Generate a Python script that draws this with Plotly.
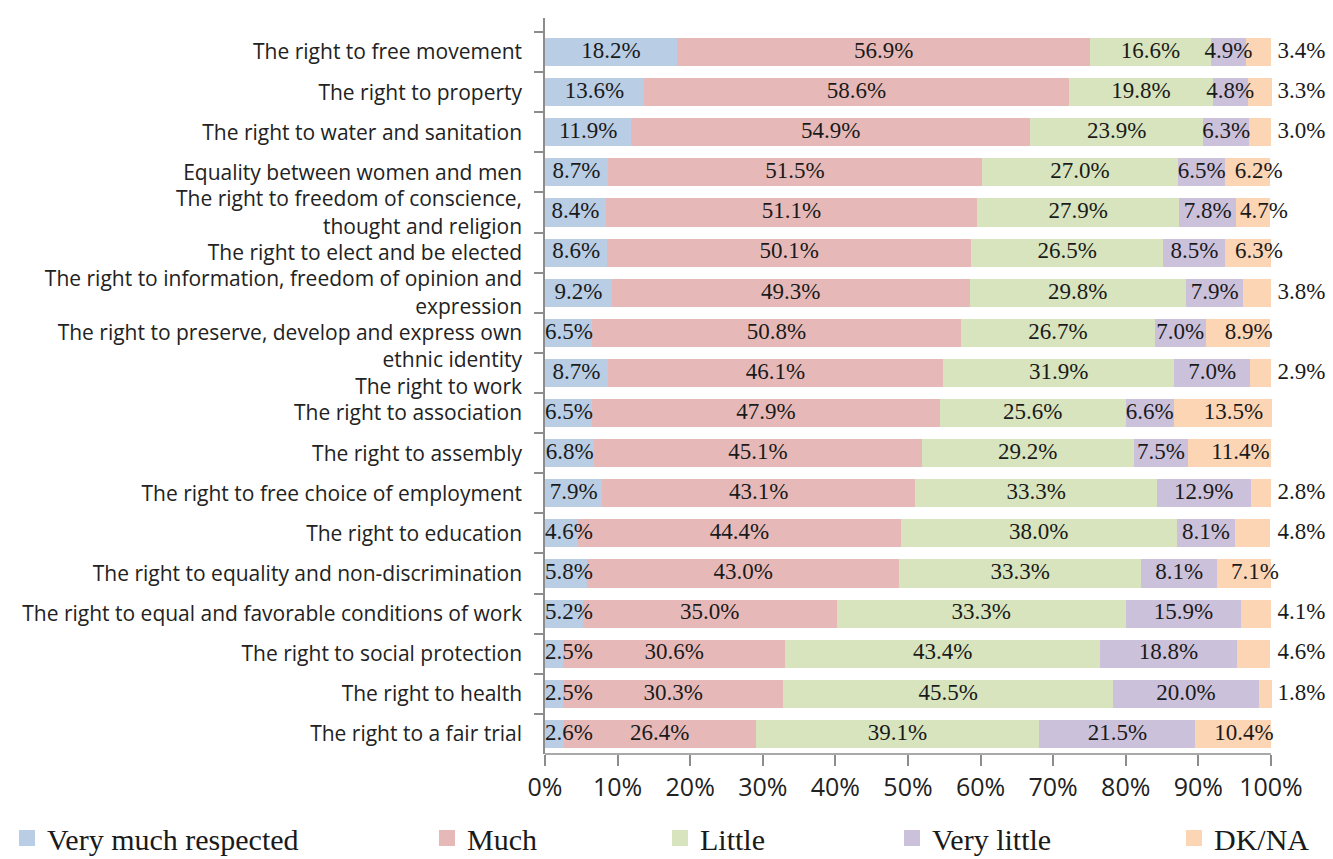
import plotly.graph_objects as go

categories = [
    "The right to free movement",
    "The right to property",
    "The right to water and sanitation",
    "Equality between women and men",
    "The right to freedom of conscience,<br>thought and religion",
    "The right to elect and be elected",
    "The right to information, freedom of opinion and<br>expression",
    "<br>The right to preserve, develop and express own<br>ethnic identity",
    "<br>The right to work",
    "The right to association",
    "The right to assembly",
    "The right to free choice of employment",
    "The right to education",
    "The right to equality and non-discrimination",
    "The right to equal and favorable conditions of work",
    "The right to social protection",
    "The right to health",
    "The right to a fair trial",
]

series_names = ["Very much respected", "Much", "Little", "Very little", "DK/NA"]
series_colors = ["#B9CDE5", "#E6B9B8", "#D7E4BD", "#CCC1DA", "#FCD5B5"]

# bar lengths as drawn (percent)
very_much = [18.2, 13.6, 11.9, 8.7, 8.4, 8.6, 9.2, 6.5, 8.7, 6.5, 6.8, 7.9, 4.6, 5.8, 5.2, 2.5, 2.5, 2.6]
much = [56.9, 58.6, 54.9, 51.5, 51.1, 50.1, 49.3, 50.8, 46.1, 47.9, 45.1, 43.1, 44.4, 43.0, 35.0, 30.6, 30.3, 26.4]
little = [16.6, 19.8, 23.9, 27.0, 27.9, 26.5, 29.8, 26.7, 31.9, 25.6, 29.2, 33.3, 38.0, 33.3, 39.8, 43.4, 45.5, 39.1]
very_little = [4.9, 4.8, 6.3, 6.5, 7.8, 8.5, 7.9, 7.0, 10.4, 6.6, 7.5, 12.9, 8.1, 10.5, 15.9, 18.8, 20.0, 21.5]
dk_na = [3.4, 3.3, 3.0, 6.2, 4.7, 6.3, 3.8, 8.9, 2.9, 13.5, 11.4, 2.8, 4.8, 7.4, 4.1, 4.6, 1.8, 10.4]

# values as printed in the data labels
very_much_lbl = [18.2, 13.6, 11.9, 8.7, 8.4, 8.6, 9.2, 6.5, 8.7, 6.5, 6.8, 7.9, 4.6, 5.8, 5.2, 2.5, 2.5, 2.6]
much_lbl = [56.9, 58.6, 54.9, 51.5, 51.1, 50.1, 49.3, 50.8, 46.1, 47.9, 45.1, 43.1, 44.4, 43.0, 35.0, 30.6, 30.3, 26.4]
little_lbl = [16.6, 19.8, 23.9, 27.0, 27.9, 26.5, 29.8, 26.7, 31.9, 25.6, 29.2, 33.3, 38.0, 33.3, 33.3, 43.4, 45.5, 39.1]
very_little_lbl = [4.9, 4.8, 6.3, 6.5, 7.8, 8.5, 7.9, 7.0, 7.0, 6.6, 7.5, 12.9, 8.1, 8.1, 15.9, 18.8, 20.0, 21.5]
dk_na_lbl = [3.4, 3.3, 3.0, 6.2, 4.7, 6.3, 3.8, 8.9, 2.9, 13.5, 11.4, 2.8, 4.8, 7.1, 4.1, 4.6, 1.8, 10.4]

# DK/NA labels placed outside the bar end
dk_outside = [True, True, True, False, False, False, True, False, True, False, False, True, True, False, True, True, True, False]

x_ticks = [0, 10, 20, 30, 40, 50, 60, 70, 80, 90, 100]

series = [very_much, much, little, very_little, dk_na]
labels = [very_much_lbl, much_lbl, little_lbl, very_little_lbl, dk_na_lbl]

fig = go.Figure()
for name, vals, col in zip(series_names, series, series_colors):
    fig.add_trace(go.Bar(
        y=categories, x=vals, orientation="h", name=name,
        marker=dict(color=col, line=dict(width=0)),
        showlegend=False, hoverinfo="skip",
    ))

# label positions derived from the stacked values
starts = [[0.0] * len(categories)]
for s in series[:-1]:
    prev = starts[-1]
    starts.append([p + v for p, v in zip(prev, s)])

label_font = dict(family="Liberation Serif", size=23, color="#1a1a1a")
for k, (vals, lbls) in enumerate(zip(series, labels)):
    xs = []
    for i, v in enumerate(vals):
        c = starts[k][i] + v / 2
        if k == 0:
            c = max(c, 3.3)
        if k == 4:
            c = 104.2 if dk_outside[i] else c + 1.5
        xs.append(c)
    fig.add_trace(go.Scatter(
        x=xs, y=categories, mode="text",
        text=[f"{l:.1f}%" for l in lbls],
        textfont=label_font, textposition="middle center",
        cliponaxis=False, showlegend=False, hoverinfo="skip",
    ))

# x-axis baseline only up to 100%
fig.add_shape(type="line", xref="x", yref="paper", x0=0, x1=100, y0=0, y1=0,
              line=dict(color="#8c8c8c", width=1.5))

W, H = 1333, 859
M_L, M_R, M_T, M_B = 545, 4, 18, 105
plot_w = W - M_L - M_R
plot_h = H - M_T - M_B

# legend entries (one legend per entry to reproduce the spread layout)
legend_text_px = [48, 468, 701, 933, 1215]
legend_ids = ["legend", "legend2", "legend3", "legend4", "legend5"]
for name, col, lid in zip(series_names, series_colors, legend_ids):
    fig.add_trace(go.Scatter(
        x=[None], y=[None], mode="markers", name=name,
        marker=dict(symbol="square", size=20, color=col),
        legend=lid, showlegend=True,
    ))

legend_common = dict(
    orientation="h", yanchor="middle", y=-(838 - (H - M_B)) / plot_h, xanchor="left",
    font=dict(family="Liberation Serif", size=30, color="#1a1a1a"),
    bgcolor="rgba(0,0,0,0)", borderwidth=0, itemsizing="trace",
)
legend_layout = {}
for lid, tx in zip(legend_ids, legend_text_px):
    legend_layout[lid] = dict(legend_common, x=(tx - 41 - M_L) / plot_w)

fig.update_layout(
    width=W, height=H,
    margin=dict(l=M_L, r=M_R, t=M_T, b=M_B, autoexpand=False),
    barmode="stack", bargap=0.3,
    plot_bgcolor="white", paper_bgcolor="white",
    showlegend=True,
    xaxis=dict(
        range=[0, 108], tickvals=x_ticks, ticktext=[f"{t}%" for t in x_ticks],
        showgrid=False, zeroline=False, showline=False,
        ticks="outside", ticklen=11, tickcolor="#8c8c8c", tickwidth=1.5,
        tickfont=dict(family="Open Sans", size=25, color="#222222"),
        ticklabelstandoff=0,
    ),
    yaxis=dict(
        range=[17.5, -0.85], type="category",
        showgrid=False, zeroline=False, showline=True, linecolor="#8c8c8c", linewidth=1.5,
        ticks="outside", ticklen=9, tickcolor="#8c8c8c", tickwidth=1.5,
        tickson="boundaries",
        tickfont=dict(family="Open Sans", size=21, color="#222222"),
        ticklabelstandoff=17,
    ),
    **legend_layout,
)

fig.write_html("out.html", config={"displayModeBar": False},
               post_script="document.body.style.margin='0px';")
